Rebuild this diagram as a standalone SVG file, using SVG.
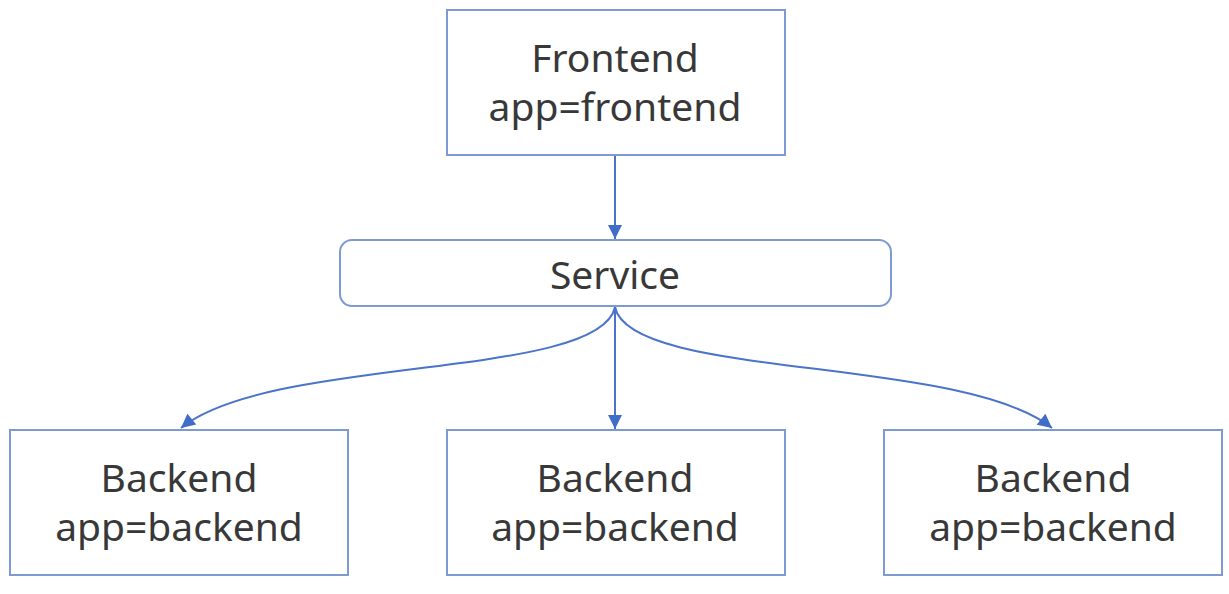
<svg xmlns="http://www.w3.org/2000/svg" width="1229" height="594" viewBox="0 0 1229 594">
<style>
.box{fill:#fff;stroke:#7d9bd2;stroke-width:2}
.t{font-family:"Noto Sans","Open Sans",sans-serif;font-size:39px;fill:#383838;text-anchor:middle}
.c{fill:none;stroke:#4a74c9;stroke-width:2}
</style>
<defs>
<marker id="ah" markerUnits="userSpaceOnUse" markerWidth="16" markerHeight="16" viewBox="0 0 16 16" refX="15" refY="8" orient="auto">
<path d="M1,1 L15,8 L1,15 Z" fill="#3f6dc7"/>
</marker>
</defs>
<rect width="1229" height="594" fill="#fff"/>
<g id="frontend">
<rect class="box" x="447" y="10" width="338" height="145"/>
<text class="t" x="615" y="72">Frontend</text>
<text class="t" x="615" y="121">app=frontend</text>
</g>
<g id="service">
<rect class="box" x="340" y="240" width="551" height="66" rx="12"/>
<text class="t" x="615" y="289">Service</text>
</g>
<g id="backend1">
<rect class="box" x="10" y="430" width="338" height="145"/>
<text class="t" x="179" y="492">Backend</text>
<text class="t" x="179" y="541">app=backend</text>
</g>
<g id="backend2">
<rect class="box" x="447" y="430" width="338" height="145"/>
<text class="t" x="615" y="492">Backend</text>
<text class="t" x="615" y="541">app=backend</text>
</g>
<g id="backend3">
<rect class="box" x="884" y="430" width="338" height="145"/>
<text class="t" x="1053" y="492">Backend</text>
<text class="t" x="1053" y="541">app=backend</text>
</g>
<g id="connectors">
<path class="c" d="M615,156 L615,239" marker-end="url(#ah)"/>
<path class="c" d="M615,307 L615,429" marker-end="url(#ah)"/>
<path class="c" d="M615,307 C600,380 270,355 181,428" marker-end="url(#ah)"/>
<path class="c" d="M615,307 C630,380 960,355 1052,428" marker-end="url(#ah)"/>
</g>
</svg>
